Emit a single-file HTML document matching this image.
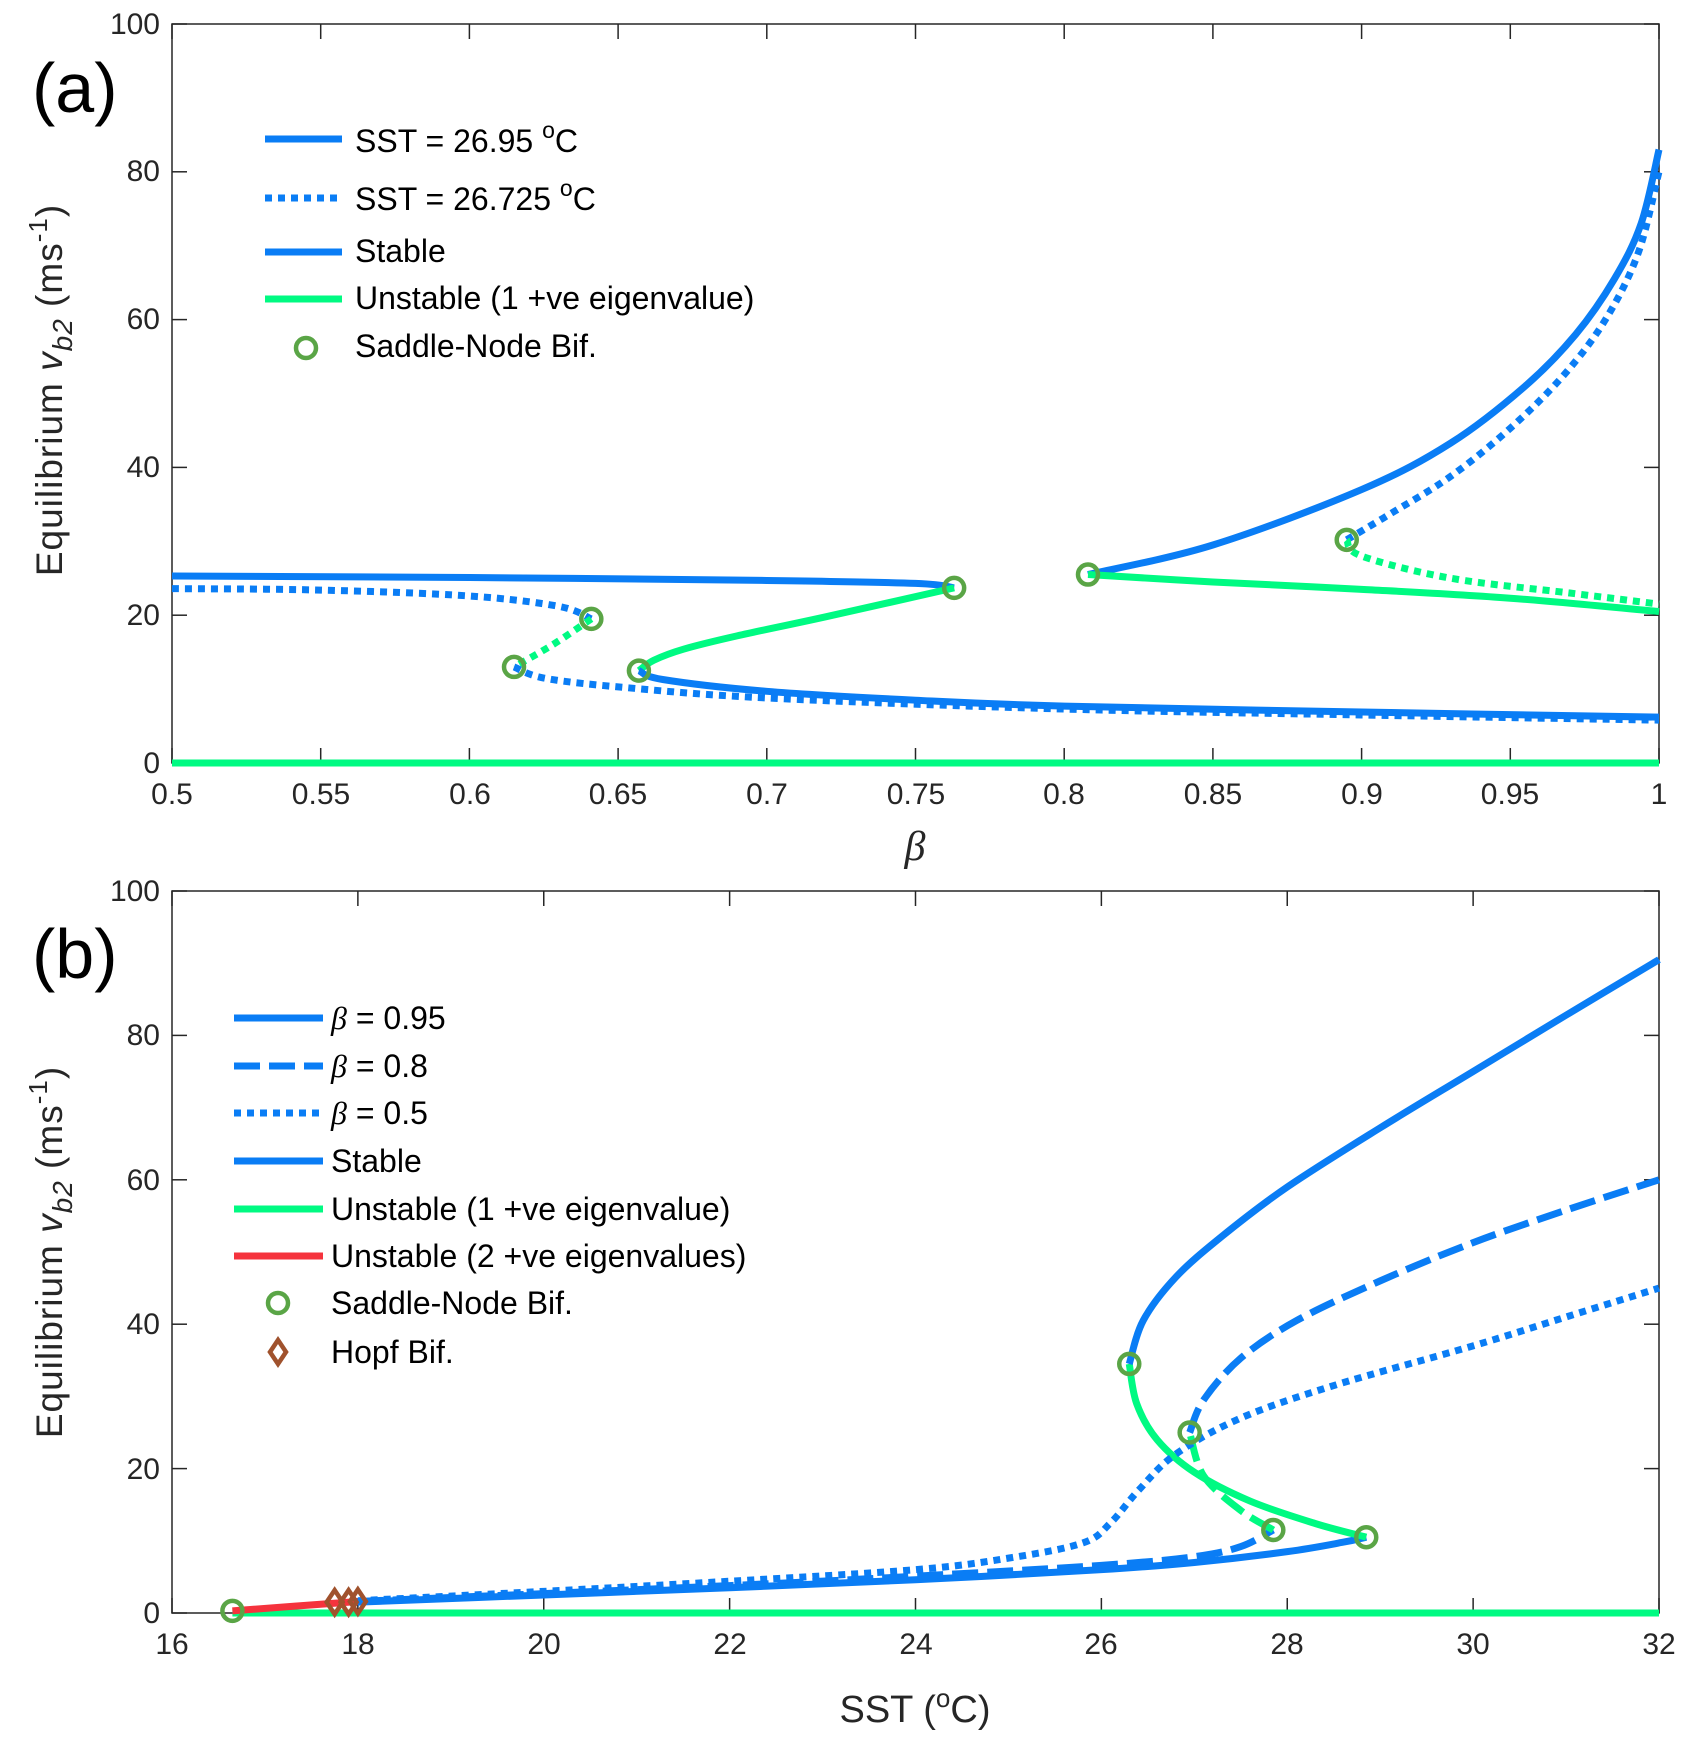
<!DOCTYPE html>
<html><head><meta charset="utf-8">
<style>
html,body{margin:0;padding:0;background:#fff;}
svg{display:block;}
text{font-family:"Liberation Sans",sans-serif;fill:#262626;}
</style></head>
<body>
<svg id="s" width="1692" height="1748" viewBox="0 0 1692 1748" xmlns="http://www.w3.org/2000/svg">
<rect width="1692" height="1748" fill="#fff"/>
<g id="g"></g>
<g font-size="30" text-anchor="end">
<text x="160" y="34">100</text><text x="160" y="181">80</text><text x="160" y="329">60</text>
<text x="160" y="477">40</text><text x="160" y="625">20</text><text x="160" y="773">0</text>
</g>
<g font-size="30" text-anchor="middle">
<text x="172" y="804">0.5</text><text x="321" y="804">0.55</text><text x="470" y="804">0.6</text>
<text x="618" y="804">0.65</text><text x="767" y="804">0.7</text><text x="916" y="804">0.75</text>
<text x="1064" y="804">0.8</text><text x="1213" y="804">0.85</text><text x="1362" y="804">0.9</text>
<text x="1510" y="804">0.95</text><text x="1659" y="804">1</text>
</g>
<text x="915" y="860" font-size="42" font-style="italic" text-anchor="middle" style="font-family:'Liberation Serif',serif">β</text>
<text x="32" y="112" font-size="70" style="fill:#000">(a)</text>
<g font-size="32">
<text x="355" y="152" style="fill:#000">SST = 26.95 <tspan dy="-14" font-size="23">o</tspan><tspan dy="14">C</tspan></text>
<text x="355" y="210" style="fill:#000">SST = 26.725 <tspan dy="-14" font-size="23">o</tspan><tspan dy="14">C</tspan></text>
<text x="355" y="262" style="fill:#000">Stable</text>
<text x="355" y="309" style="fill:#000">Unstable (1 +ve eigenvalue)</text>
<text x="355" y="357" style="fill:#000">Saddle-Node Bif.</text>
</g>
<text transform="translate(62,390) rotate(-90)" font-size="37" text-anchor="middle" letter-spacing="1">Equilibrium  <tspan font-style="italic">v</tspan><tspan font-style="italic" font-size="28" dy="10">b2</tspan><tspan dy="-10"> (ms</tspan><tspan dy="-15" font-size="26">-1</tspan><tspan dy="15">)</tspan></text>
<g font-size="30" text-anchor="end">
<text x="160" y="901">100</text><text x="160" y="1045">80</text><text x="160" y="1190">60</text>
<text x="160" y="1334">40</text><text x="160" y="1479">20</text><text x="160" y="1623">0</text>
</g>
<g font-size="30" text-anchor="middle">
<text x="172" y="1654">16</text><text x="358" y="1654">18</text><text x="544" y="1654">20</text>
<text x="730" y="1654">22</text><text x="916" y="1654">24</text><text x="1101" y="1654">26</text>
<text x="1287" y="1654">28</text><text x="1473" y="1654">30</text><text x="1659" y="1654">32</text>
</g>
<text x="915" y="1722" font-size="38" text-anchor="middle">SST (<tspan dy="-15" font-size="26">o</tspan><tspan dy="15">C)</tspan></text>
<text x="32" y="978" font-size="70" style="fill:#000">(b)</text>
<g font-size="32">
<text x="331" y="1029" style="fill:#000"><tspan font-style="italic" style="font-family:'Liberation Serif',serif">β</tspan> = 0.95</text>
<text x="331" y="1077" style="fill:#000"><tspan font-style="italic" style="font-family:'Liberation Serif',serif">β</tspan> = 0.8</text>
<text x="331" y="1124" style="fill:#000"><tspan font-style="italic" style="font-family:'Liberation Serif',serif">β</tspan> = 0.5</text>
<text x="331" y="1172" style="fill:#000">Stable</text>
<text x="331" y="1220" style="fill:#000">Unstable (1 +ve eigenvalue)</text>
<text x="331" y="1267" style="fill:#000">Unstable (2 +ve eigenvalues)</text>
<text x="331" y="1314" style="fill:#000">Saddle-Node Bif.</text>
<text x="331" y="1363" style="fill:#000">Hopf Bif.</text>
</g>
<text transform="translate(62,1252) rotate(-90)" font-size="37" text-anchor="middle" letter-spacing="1">Equilibrium  <tspan font-style="italic">v</tspan><tspan font-style="italic" font-size="28" dy="10">b2</tspan><tspan dy="-10"> (ms</tspan><tspan dy="-15" font-size="26">-1</tspan><tspan dy="15">)</tspan></text>
</svg>
<script>
var B="#0a7df5",G="#00fa82",R="#f5333d",SN="#5aa546",H="#a0522d";
var g=document.getElementById('g'),ns="http://www.w3.org/2000/svg";
function el(t,a){var e=document.createElementNS(ns,t);for(var k in a)e.setAttribute(k,a[k]);g.appendChild(e);return e;}
var X0=172,X1=1659;
function ax(b){return X0+(b-0.5)*(X1-X0)/0.5;}function ay(v){return 763-v*7.39;}
function bx(s){return X0+(s-16)*(X1-X0)/16;}function by(v){return 1613-v*7.22;}
function line(pts,fx,fy,c,dash){
  var p=[];for(var i=0;i<pts.length;i++)p.push([fx(pts[i][0]),fy(pts[i][1])]);
  var d="M"+p[0][0]+","+p[0][1];
  for(var i=0;i<p.length-1;i++){var p0=p[i-1]||p[i],p1=p[i],p2=p[i+1],p3=p[i+2]||p2;
    d+=" C"+(p1[0]+(p2[0]-p0[0])/6)+","+(p1[1]+(p2[1]-p0[1])/6)+" "+(p2[0]-(p3[0]-p1[0])/6)+","+(p2[1]-(p3[1]-p1[1])/6)+" "+p2[0]+","+p2[1];}
  var a={d:d,fill:"none",stroke:c,"stroke-width":7};if(dash)a["stroke-dasharray"]=dash;el("path",a);}
function sn(x,y){el("circle",{cx:x,cy:y,r:10,fill:"none",stroke:SN,"stroke-width":4.5});}
function hopf(x,y){el("path",{d:"M"+x+","+(y-12)+" L"+(x+8)+","+y+" L"+x+","+(y+12)+" L"+(x-8)+","+y+"Z",fill:"none",stroke:H,"stroke-width":4.5});}
var DOT="7 6",DASH="26 9";
function box(t,b){el("rect",{x:X0,y:t,width:X1-X0,height:b-t,fill:"none",stroke:"#262626","stroke-width":1.5});}
box(24,763);box(891,1613);
for(var i=0;i<=10;i++){var x=ax(0.5+i*0.05);el("line",{x1:x,y1:763,x2:x,y2:748,stroke:"#262626","stroke-width":1.5});el("line",{x1:x,y1:24,x2:x,y2:39,stroke:"#262626","stroke-width":1.5});}
for(var i=0;i<=5;i++){var y=ay(i*20);el("line",{x1:X0,y1:y,x2:X0+15,y2:y,stroke:"#262626","stroke-width":1.5});el("line",{x1:X1,y1:y,x2:X1-15,y2:y,stroke:"#262626","stroke-width":1.5});}
for(var i=0;i<=8;i++){var x=bx(16+i*2);el("line",{x1:x,y1:1613,x2:x,y2:1598,stroke:"#262626","stroke-width":1.5});el("line",{x1:x,y1:891,x2:x,y2:906,stroke:"#262626","stroke-width":1.5});}
for(var i=0;i<=5;i++){var y=by(i*20);el("line",{x1:X0,y1:y,x2:X0+15,y2:y,stroke:"#262626","stroke-width":1.5});el("line",{x1:X1,y1:y,x2:X1-15,y2:y,stroke:"#262626","stroke-width":1.5});}
// panel a
line([[0.5,0],[1,0]],ax,ay,G);
line([[0.5,25.3],[0.6,25.1],[0.7,24.7],[0.75,24.3],[0.763,23.7]],ax,ay,B);
line([[0.763,23.7],[0.72,19.8],[0.69,17.2],[0.672,15.4],[0.662,13.9],[0.657,12.5]],ax,ay,G);
line([[0.657,12.5],[0.665,11.3],[0.7,9.7],[0.75,8.5],[0.8,7.7],[0.9,6.9],[1.0,6.2]],ax,ay,B);
line([[0.808,25.5],[0.85,29.5],[0.9,37],[0.93,43.3],[0.955,51],[0.972,58],[0.985,65.5],[0.994,73],[1.0,83]],ax,ay,B);
line([[0.808,25.5],[0.85,24.5],[0.9,23.5],[0.95,22.3],[1.0,20.5]],ax,ay,G);
line([[0.5,23.6],[0.55,23.4],[0.6,22.6],[0.63,21.2],[0.641,19.5]],ax,ay,B,DOT);
line([[0.641,19.5],[0.628,16],[0.615,13]],ax,ay,G,DOT);
line([[0.615,13],[0.625,11.5],[0.65,10.3],[0.7,8.8],[0.8,7.3],[0.9,6.5],[1,5.8]],ax,ay,B,DOT);
line([[0.895,30.2],[0.91,33.8],[0.93,38.8],[0.95,45.3],[0.968,52.5],[0.982,60],[0.993,69],[1.0,80]],ax,ay,B,DOT);
line([[0.895,30.2],[0.9,28],[0.93,25],[0.97,23],[1.0,21.5]],ax,ay,G,DOT);
[[0.763,23.7],[0.657,12.5],[0.808,25.5],[0.641,19.5],[0.615,13],[0.895,30.2]].forEach(function(p){sn(ax(p[0]),ay(p[1]));});
el("line",{x1:265,y1:139,x2:342,y2:139,stroke:B,"stroke-width":7});
el("line",{x1:265,y1:198,x2:342,y2:198,stroke:B,"stroke-width":7,"stroke-dasharray":DOT});
el("line",{x1:265,y1:252,x2:342,y2:252,stroke:B,"stroke-width":7});
el("line",{x1:265,y1:299,x2:342,y2:299,stroke:G,"stroke-width":7});
sn(306,348);
// panel b
line([[16.65,0],[32,0]],bx,by,G);
line([[16.65,0.3],[18,1.6]],bx,by,R);
line([[18,1.5],[20,2.5],[22,3.5],[24,4.6],[26,6],[27,7],[28,8.5],[28.6,9.8],[28.85,10.5]],bx,by,B);
line([[28.85,10.5],[28.3,12.4],[27.6,15.5],[27,19.5],[26.6,24],[26.38,29],[26.3,34.5]],bx,by,G);
line([[26.3,34.5],[26.45,40.5],[26.8,46.5],[27.3,52.2],[28,59],[29,67.2],[30,75],[31,82.8],[32,90.5]],bx,by,B);
line([[18,1.6],[22,3.8],[24,5.1],[26,6.6],[27,7.8],[27.5,9.2],[27.85,11.5]],bx,by,B,DASH);
line([[27.85,11.5],[27.5,14.2],[27.1,19],[26.95,25]],bx,by,G,DASH);
line([[26.95,25],[27.1,29.5],[27.5,35.3],[28.1,40.5],[29,46],[30,51.3],[31,55.8],[32,60]],bx,by,B,DASH);
line([[18,1.7],[20,3],[22,4.4],[24,6],[25,7.6],[25.8,9.7],[26.1,12.5],[26.4,17],[26.8,22],[27.5,27],[28.5,31.5],[30,37],[31,41],[32,45]],bx,by,B,DOT);
[[26.3,34.5],[26.95,25],[27.85,11.5],[28.85,10.5],[16.65,0.3]].forEach(function(p){sn(bx(p[0]),by(p[1]));});
hopf(bx(17.75),by(1.5));hopf(bx(17.9),by(1.5));hopf(bx(18.0),by(1.6));
[[1018,B,null],[1066,B,DASH],[1113,B,DOT],[1161,B,null],[1209,G,null],[1256,R,null]].forEach(function(r){var a={x1:234,y1:r[0],x2:323,y2:r[0],stroke:r[1],"stroke-width":7};if(r[2])a["stroke-dasharray"]=r[2];el("line",a);});
sn(278,1303);hopf(278,1352);
</script>
</body></html>
